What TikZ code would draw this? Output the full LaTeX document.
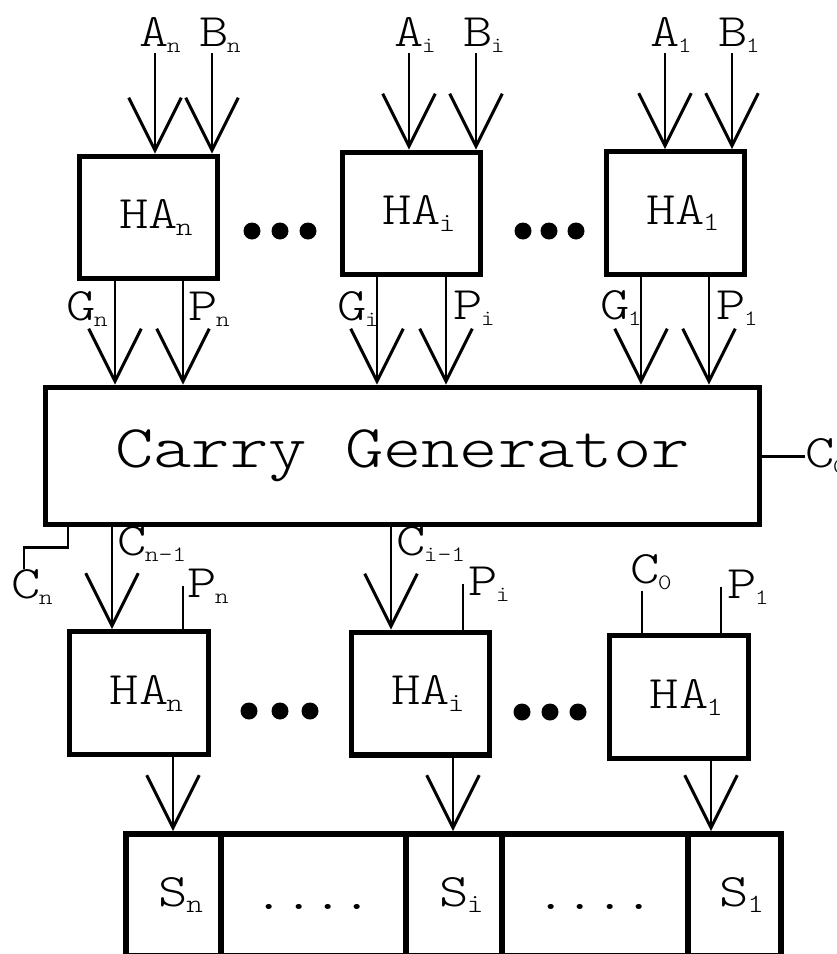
\documentclass[tikz,border=0pt]{standalone}
\usepackage{fontspec}
\setmainfont{lmmonolt10-regular.otf}[FakeStretch=1.2]
\usetikzlibrary{arrows.meta}
\newcommand{\sbs}[2][12.5]{\rlap{\kern-0.04em\raisebox{-0.15em}{\fontsize{#1}{#1}\selectfont #2}}}

\tikzset{
  habox/.style={draw, line width=2.85pt, inner sep=0pt, minimum width=2.78cm, minimum height=2.46cm, font=\fontsize{26.5}{28}\selectfont},
  cgbox/.style={draw, line width=2.85pt, inner sep=0pt, minimum width=14.3cm, minimum height=2.76cm, font=\fontsize{34.6}{36}\selectfont},
  sumcell/.style={draw, line width=3.4pt, inner sep=0pt, minimum height=2.44cm, font=\fontsize{26.5}{28}\selectfont},
  lbl/.style={inner sep=0pt, anchor=base west, font=\fontsize{26.5}{28}\selectfont},
  arr/.style={line width=1.7pt, -{Straight Barb[length=1.05cm, width=1.05cm]}},
  wire/.style={line width=1.7pt},
}

\begin{document}
\begin{tikzpicture}[x=0.02cm, y=-0.02cm]
  \useasboundingbox (0,0) rectangle (836,954);
  \clip (0,0) rectangle (836,954);

  \node[habox] (ha-n) at (148.5,217.5) {HA\sbs[15]{n}};
  \node[habox] (ha-i) at (411.5,213.5) {HA\sbs[15]{i}};
  \node[habox] (ha-1) at (675.5,213) {HA\sbs[15]{1}};
  \fill (252,231) circle[radius=0.17cm] (280,231) circle[radius=0.17cm] (308,231) circle[radius=0.17cm];
  \fill (523,231) circle[radius=0.17cm] (549,231) circle[radius=0.17cm] (576,231) circle[radius=0.17cm];

  \node[lbl] (a-n) at (139,46) {A\sbs{n}};
  \node[lbl] (b-n) at (199,46) {B\sbs{n}};
  \node[lbl] (a-i) at (394,46) {A\sbs{i}};
  \node[lbl] (b-i) at (463,46) {B\sbs{i}};
  \node[lbl] (a-1) at (650,46) {A\sbs{1}};
  \node[lbl] (b-1) at (718,46) {B\sbs{1}};
  \draw[arr] (a-n.south -| 155,0) -- (ha-n.north -| 155,0);
  \draw[arr] (b-n.south -| 212,0) -- (ha-n.north -| 212,0);
  \draw[arr] (a-i.south -| 409,0) -- (ha-i.north -| 409,0);
  \draw[arr] (b-i.south -| 476,0) -- (ha-i.north -| 476,0);
  \draw[arr] (a-1.south -| 665,0) -- (ha-1.north -| 665,0);
  \draw[arr] (b-1.south -| 732,0) -- (ha-1.north -| 732,0);

  \node[cgbox] (cg) at (402.5,456) {Carry Generator};

  \node[lbl] (g-n) at (66,320) {G\sbs{n}};
  \node[lbl] (p-n) at (188,320) {P\sbs{n}};
  \node[lbl] (g-i) at (337,320) {G\sbs{i}};
  \node[lbl] (p-i) at (453,319) {P\sbs{i}};
  \node[lbl] (g-1) at (600,319) {G\sbs{1}};
  \node[lbl] (p-1) at (716,319) {P\sbs{1}};
  \draw[arr] (ha-n.south -| 115,0) -- (cg.north -| 115,0);
  \draw[arr] (ha-n.south -| 183,0) -- (cg.north -| 183,0);
  \draw[arr] (ha-i.south -| 377,0) -- (cg.north -| 377,0);
  \draw[arr] (ha-i.south -| 446,0) -- (cg.north -| 446,0);
  \draw[arr] (ha-1.south -| 641,0) -- (cg.north -| 641,0);
  \draw[arr] (ha-1.south -| 709,0) -- (cg.north -| 709,0);

  \node[lbl] (c0-r) at (805,467) {C\sbs{0}};
  \draw[wire] (cg.east) -- (cg.east -| c0-r.west);
  \node[lbl] (cn) at (11,598) {C\sbs{n}};
  \draw[wire] (cg.south -| 68,0) -- ++(0,20) -| (cn.north -| 24,0);

  \node[habox] (hb-n) at (139,693) {HA\sbs[15]{n}};
  \node[habox] (hb-i) at (420.5,693.5) {HA\sbs[15]{i}};
  \node[habox] (hb-1) at (679,697) {HA\sbs[15]{1}};
  \fill (249,711) circle[radius=0.17cm] (280,711) circle[radius=0.17cm] (310,711) circle[radius=0.17cm];
  \fill (522,712) circle[radius=0.17cm] (550,712) circle[radius=0.17cm] (578,712) circle[radius=0.17cm];

  \node[lbl] (cn1) at (117,555) {C\sbs{n-1}};
  \node[lbl] (ci1) at (396,555) {C\sbs{i-1}};
  \node[lbl] (pn-b) at (187,597) {P\sbs{n}};
  \node[lbl] (pi-b) at (468,595) {P\sbs{i}};
  \node[lbl] (c0-b) at (630,583) {C\sbs{0}};
  \node[lbl] (p1-b) at (727,598) {P\sbs{1}};
  \draw[arr] (cg.south -| 112,0) -- (hb-n.north -| 112,0);
  \draw[arr] (cg.south -| 391,0) -- (hb-i.north -| 391,0);
  \draw[wire] (pn-b.west -| 183,0) -- (hb-n.north -| 183,0);
  \draw[wire] (pi-b.west -| 463,0) -- (hb-i.north -| 463,0);
  \draw[wire] (c0-b.south -| 642,0) -- (hb-1.north -| 642,0);
  \draw[wire] (p1-b.west -| 721,0) -- (hb-1.north -| 721,0);

  \node[sumcell, minimum width=1.9cm] (s-n) at (173.5,895) {S\sbs[15]{n}};
  \node[sumcell, minimum width=3.7cm] (s-d1) at (313.5,895) {\vphantom{S}....};
  \node[sumcell, minimum width=1.92cm] (s-i) at (454,895) {S\sbs[15]{i}};
  \node[sumcell, minimum width=3.72cm] (s-d2) at (595,895) {\vphantom{S}....};
  \node[sumcell, minimum width=1.86cm] (s-1) at (734.5,895) {S\sbs[15]{1}};
  \draw[arr] (hb-n.south -| 173,0) -- (s-n.north -| 173,0);
  \draw[arr] (hb-i.south -| 453,0) -- (s-i.north -| 453,0);
  \draw[arr] (hb-1.south -| 711,0) -- (s-1.north -| 711,0);
\end{tikzpicture}
\end{document}
